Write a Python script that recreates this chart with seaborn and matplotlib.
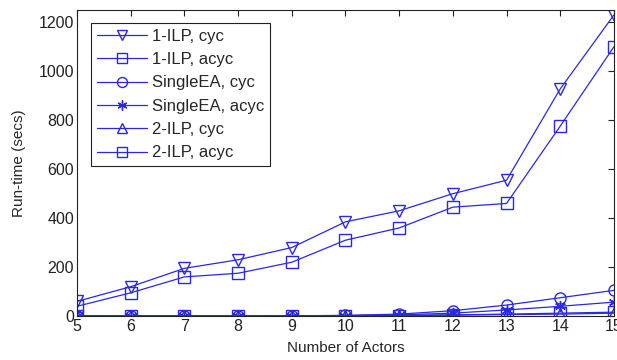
import numpy as np
import pandas as pd
import matplotlib
matplotlib.use("Agg")
import matplotlib.pyplot as plt
import seaborn as sns

sns.set_style("white")
plt.rcParams['font.family'] = ['Liberation Sans', 'DejaVu Sans']

actors = [5, 6, 7, 8, 9, 10, 11, 12, 13, 14, 15]
ilp1_cyc = [60, 120, 195, 230, 280, 385, 430, 500, 555, 928, 1230]
ilp1_acyc = [40, 95, 160, 175, 220, 310, 360, 445, 460, 776, 1100]
singleea_cyc = [0, 0, 0, 0, 1, 3, 8, 22, 45, 75, 105]
singleea_acyc = [0, 0, 0, 0, 0, 2, 5, 12, 25, 40, 57]
ilp2_cyc = [0, 0, 0, 0, 0, 1, 2, 4, 6, 8, 12]
ilp2_acyc = [0, 0, 0, 0, 0, 1, 2, 5, 8, 12, 16]

series = [
    ('1-ILP, cyc', ilp1_cyc, 'v'),
    ('1-ILP, acyc', ilp1_acyc, 's'),
    ('SingleEA, cyc', singleea_cyc, 'o'),
    ('SingleEA, acyc', singleea_acyc, (6, 2, 0)),
    ('2-ILP, cyc', ilp2_cyc, '^'),
    ('2-ILP, acyc', ilp2_acyc, 's'),
]

blue = '#2828e6'

fig = plt.figure(figsize=(6.17, 3.6), dpi=100)
ax = fig.add_axes([0.1248, 0.122, 0.8702, 0.85])

for name, vals, mk in series:
    df = pd.DataFrame({'actors': actors, 'time': vals})
    sns.lineplot(x='actors', y='time', data=df, ax=ax, color=blue, lw=0.9,
                 marker=mk, markersize=8, markerfacecolor='none',
                 markeredgecolor=blue, markeredgewidth=1.0, label=name)

ax.set_xlim(5, 15)
ax.set_ylim(0, 1250)
ax.set_xticks(range(5, 16))
ax.set_yticks(range(0, 1201, 200))
ax.tick_params(direction='in', length=4, width=0.8, top=True, right=True,
               labelsize=11.5, pad=2, colors='#222222')
for s in ax.spines.values():
    s.set_color('#222222')
    s.set_linewidth(0.8)
ax.set_xlabel('Number of Actors', fontsize=11, labelpad=5)
ax.set_ylabel('Run-time (secs)', fontsize=11, labelpad=9)

leg = ax.legend(loc='upper left', bbox_to_anchor=(0.027, 0.958), fontsize=12,
                handlelength=3.0, handletextpad=0.3, labelspacing=0.5,
                borderpad=0.35, borderaxespad=0, fancybox=False, framealpha=1,
                markerscale=0.9)
leg.get_frame().set_edgecolor('#222222')
leg.get_frame().set_linewidth(0.8)

fig.savefig('out.png', dpi=100)
